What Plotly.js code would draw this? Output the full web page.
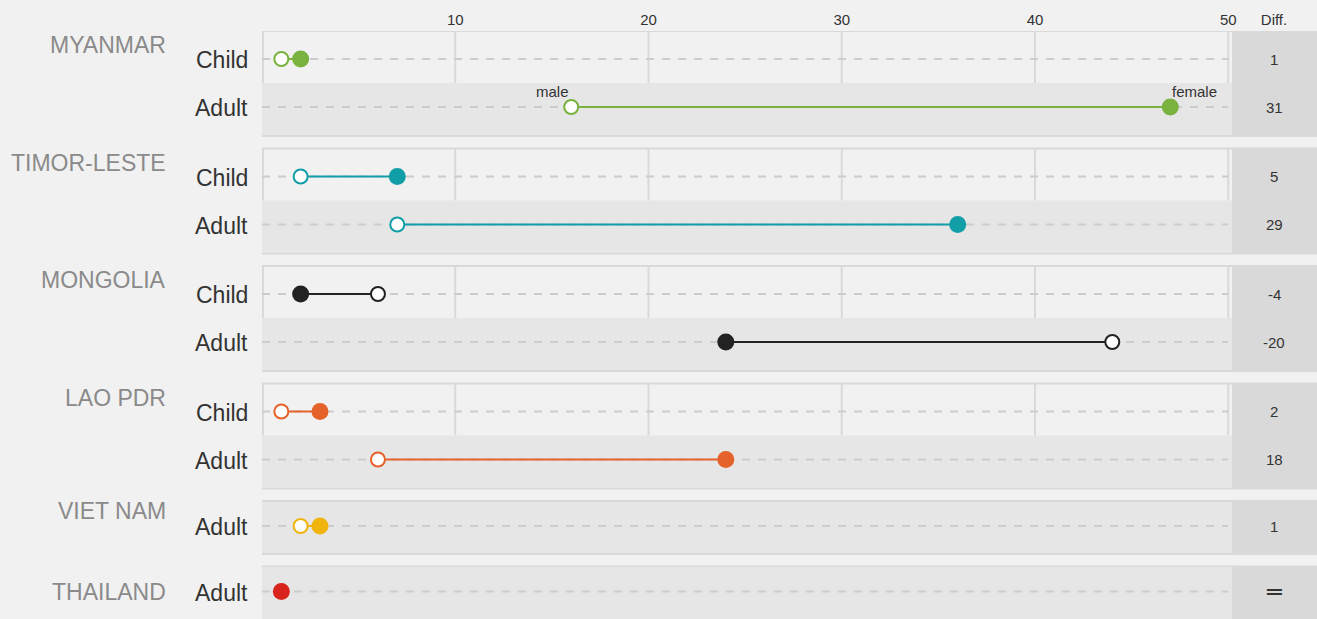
<!DOCTYPE html>
<html>
<head>
<meta charset="utf-8">
<script src="https://cdn.plot.ly/plotly-3.0.1.min.js"></script>
<style>
  html, body { margin: 0; padding: 0; background: #f1f1f1; }
  #chart { width: 1317px; height: 619px; }
</style>
</head>
<body>
<div id="chart"></div>
<script>
// ---------------- DATA ----------------
const countries   = ["MYANMAR", "TIMOR-LESTE", "MONGOLIA", "LAO PDR", "VIET NAM", "THAILAND"];
const rowCountry  = [0, 0, 1, 1, 2, 2, 3, 3, 4, 5];
const rowAge      = ["Child", "Adult", "Child", "Adult", "Child", "Adult", "Child", "Adult", "Adult", "Adult"];
const maleValues  = [1, 16, 2, 7, 6, 44, 1, 6, 2, null];
const femaleValues= [2, 47, 7, 36, 2, 24, 3, 24, 3, 1];
const tickValues  = [10, 20, 30, 40, 50];
const tickLabels  = ["10", "20", "30", "40", "50"];
const diffHeader  = "Diff.";
const missingDiff = "═";
const legendMale  = "male";
const legendFemale= "female";

// ---------------- STYLE ----------------
const countryColors = ["#7ab23f", "#119ea6", "#222222", "#e5622a", "#f0b40f", "#d9231d"];
const FONT = "Liberation Sans, Arial, Helvetica, sans-serif";
const W = 1317, H = 619, L = 262, TOP = 31;
const pxPerUnit = (1228 - 455) / 40;           // 10 -> 455px, 50 -> 1228px
const xMax = (W - L) / pxPerUnit;
const xPanelEnd = (1233 - L) / pxPerUnit;
const xDiffCenter = (1274 - L) / pxPerUnit;
const rowStep = 48;
const groupGap = 12.5;

const childBg = "#f1f1f1", adultBg = "#e6e6e6", borderCol = "#d9d9d9", diffBg = "#d9d9d9";

// ---------------- LAYOUT OF ROWS ----------------
const rowY = new Array(rowAge.length);
const groups = [];
let cursor = TOP;
countries.forEach((c, gi) => {
  const idx = rowCountry.map((g, i) => g === gi ? i : -1).filter(i => i >= 0);
  const multi = idx.length > 1;
  const top = cursor;
  const padTop = multi ? 28 : 25;
  const padBottom = multi ? 29 : 28;
  idx.forEach((ri, k) => { rowY[ri] = top + padTop + k * rowStep; });
  const bottom = rowY[idx[idx.length - 1]] + padBottom;
  groups.push({ gi, idx, top, bottom, multi });
  cursor = bottom + groupGap;
});

const shapes = [];
const annotations = [];

groups.forEach((g, n) => {
  shapes.push({ type: "rect", layer: "below", xref: "x", yref: "y",
    x0: -1, x1: xPanelEnd, y0: g.top, y1: g.bottom,
    fillcolor: childBg, line: { color: borderCol, width: 2 } });
  g.idx.forEach((ri, k) => {
    const isChild = rowAge[ri] === "Child";
    const y0 = k === 0 ? g.top : rowY[ri] - 24;
    const y1 = (k === g.idx.length - 1) ? g.bottom : rowY[ri] + 24;
    if (!isChild) {
      shapes.push({ type: "rect", layer: "below", xref: "x", yref: "y",
        x0: -1, x1: xPanelEnd - 0.05, y0: y0 + (k === 0 ? 1 : 0), y1: y1 - 1,
        fillcolor: adultBg, line: { width: 0 } });
    } else {
      shapes.push({ type: "line", layer: "below", xref: "x", yref: "y",
        x0: 0.05, x1: 0.05, y0: y0, y1: y1, line: { color: borderCol, width: 2 } });
      tickValues.forEach(tv => {
        shapes.push({ type: "line", layer: "below", xref: "x", yref: "y",
          x0: tv, x1: tv, y0: y0, y1: y1, line: { color: borderCol, width: 2 } });
      });
    }
    shapes.push({ type: "line", layer: "below", xref: "x", yref: "y",
      x0: 0, x1: 50, y0: rowY[ri], y1: rowY[ri],
      line: { color: "#cccccc", width: 2, dash: "8px,8px" } });
    annotations.push({ xref: "paper", yref: "y", x: (250 - L) / (W - L), y: rowY[ri] + 1,
      xanchor: "right", yanchor: "middle", showarrow: false, text: rowAge[ri],
      font: { family: FONT, size: 23, color: "#333333" } });
    const m = maleValues[ri], f = femaleValues[ri];
    const diffText = (m === null || f === null) ? missingDiff : String(f - m);
    annotations.push({ xref: "x", yref: "y", x: xDiffCenter, y: rowY[ri],
      xanchor: "center", yanchor: "middle", showarrow: false, text: diffText,
      font: { family: diffText === missingDiff ? "DejaVu Sans, sans-serif" : FONT,
              size: diffText === missingDiff ? 24 : 15, color: "#333333" } });
  });
  shapes.push({ type: "rect", layer: "below", xref: "x", yref: "y",
    x0: xPanelEnd, x1: xMax + 1, y0: g.top - 1, y1: g.bottom + 1,
    fillcolor: diffBg, line: { width: 0 } });
  let ly;
  if (g.multi) ly = g.top + 14;
  else if (n === groups.length - 1) ly = rowY[g.idx[0]];
  else ly = g.top + 10;
  annotations.push({ xref: "paper", yref: "y", x: (168 - L) / (W - L), y: ly,
    xanchor: "right", yanchor: "middle", showarrow: false, text: countries[g.gi],
    font: { family: FONT, size: 23, color: "#8a8a8a" } });
});

annotations.push({ xref: "x", yref: "y", x: maleValues[1], y: rowY[1] - 16,
  xanchor: "right", yanchor: "middle", showarrow: false, text: legendMale,
  font: { family: FONT, size: 15, color: "#333333" } });
annotations.push({ xref: "x", yref: "y", x: femaleValues[1], y: rowY[1] - 16,
  xanchor: "left", yanchor: "middle", showarrow: false, text: legendFemale,
  font: { family: FONT, size: 15, color: "#333333" } });

// ---------------- TRACES ----------------
const traces = [];
rowAge.forEach((a, i) => {
  if (maleValues[i] === null || femaleValues[i] === null) return;
  traces.push({ type: "scatter", mode: "lines", x: [maleValues[i], femaleValues[i]], y: [rowY[i], rowY[i]],
    line: { color: countryColors[rowCountry[i]], width: 2 }, hoverinfo: "skip", showlegend: false });
});
const rowColors = rowCountry.map(g => countryColors[g]);
traces.push({ type: "scatter", mode: "markers", name: "male", x: maleValues, y: rowY,
  marker: { symbol: "circle", size: 14, color: "#ffffff", line: { color: rowColors, width: 2 } },
  cliponaxis: false, showlegend: false });
traces.push({ type: "scatter", mode: "markers", name: "female", x: femaleValues, y: rowY,
  marker: { symbol: "circle", size: 17, color: rowColors, line: { width: 0 } },
  cliponaxis: false, showlegend: false });

const layout = {
  width: W, height: H,
  margin: { l: L, r: 0, t: TOP, b: 0, pad: 0 },
  paper_bgcolor: "#f1f1f1", plot_bgcolor: "#f1f1f1",
  showlegend: false,
  xaxis: { range: [0, xMax], side: "top", showgrid: false, zeroline: false, showline: false,
    ticks: "", tickvals: tickValues.concat([xDiffCenter]), ticktext: tickLabels.concat([diffHeader]),
    tickfont: { family: FONT, size: 15, color: "#333333" }, ticklabelstandoff: 2, fixedrange: true },
  yaxis: { range: [H, TOP], showgrid: false, zeroline: false, showline: false,
    showticklabels: false, ticks: "", fixedrange: true },
  shapes: shapes,
  annotations: annotations
};

Plotly.newPlot("chart", traces, layout, { displayModeBar: false, staticPlot: true });
</script>
</body>
</html>
